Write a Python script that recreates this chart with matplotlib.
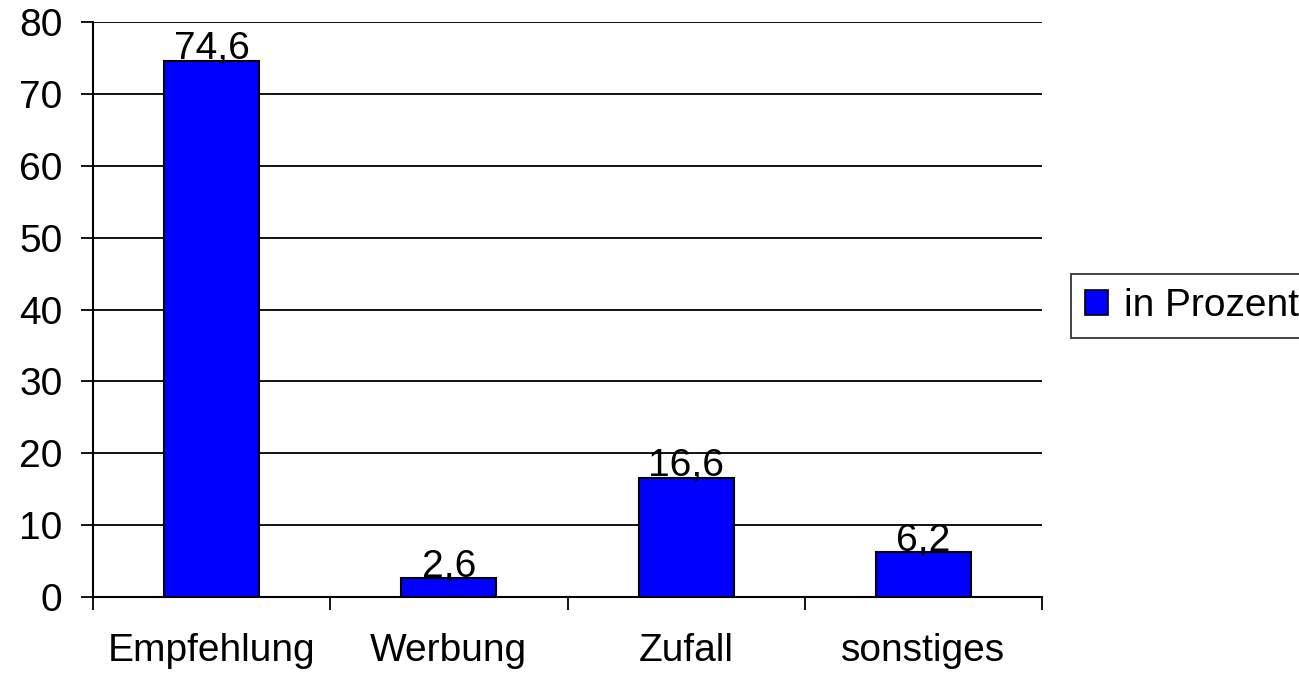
import matplotlib.pyplot as plt
from matplotlib.patches import Rectangle

categories = ["Empfehlung", "Werbung", "Zufall", "sonstiges"]
values = [74.6, 2.6, 16.6, 6.2]
value_labels = ["74,6", "2,6", "16,6", "6,2"]
series_name = "in Prozent"

plt.rcParams['font.family'] = ['Liberation Sans', 'DejaVu Sans']

fig = plt.figure(figsize=(12.99, 6.76), dpi=100)
ax = fig.add_axes([93 / 1299, 1 - 597 / 676, 949 / 1299, 575 / 676])

x = range(len(categories))
bars = ax.bar(x, values, width=0.4, color="#0000FF", edgecolor="black",
              linewidth=1.5, zorder=3, label=series_name)
ax.bar_label(bars, labels=value_labels, padding=-4.5, fontsize=28, zorder=4)

ax.set_xlim(-0.5, len(categories) - 0.5)
ax.set_ylim(0, 80)
ax.set_yticks(range(0, 81, 10))
ax.yaxis.grid(True, color="black", linewidth=1.3, zorder=0)

# ticks at the category borders, labels in the middle
ax.set_xticks([i + 0.5 for i in range(-1, len(categories))])
ax.set_xticklabels([])
ax.set_xticks(list(x), categories, minor=True)
ax.tick_params(axis="x", which="minor", length=0, pad=26, labelsize=28)
ax.tick_params(axis="x", which="major", length=9, width=1.3, direction="out")
ax.tick_params(axis="y", length=9, width=1.3, direction="out", labelsize=28, pad=13)

for s in ["top", "right"]:
    ax.spines[s].set_visible(False)
for s in ["left", "bottom"]:
    ax.spines[s].set_linewidth(1.5)

handle = Rectangle((0, 0), 1, 1, facecolor="#0000FF", edgecolor="black", linewidth=1.2)
leg = fig.legend([handle], [series_name], loc="center left",
                 bbox_to_anchor=(1071 / 1299, 1 - 306 / 676), fontsize=28,
                 frameon=True, fancybox=False, edgecolor="black",
                 handlelength=0.6, handleheight=0.6, handletextpad=0.4,
                 borderpad=0.35, borderaxespad=0)
leg.get_frame().set_linewidth(1.3)

fig.savefig("out.png", dpi=100)
